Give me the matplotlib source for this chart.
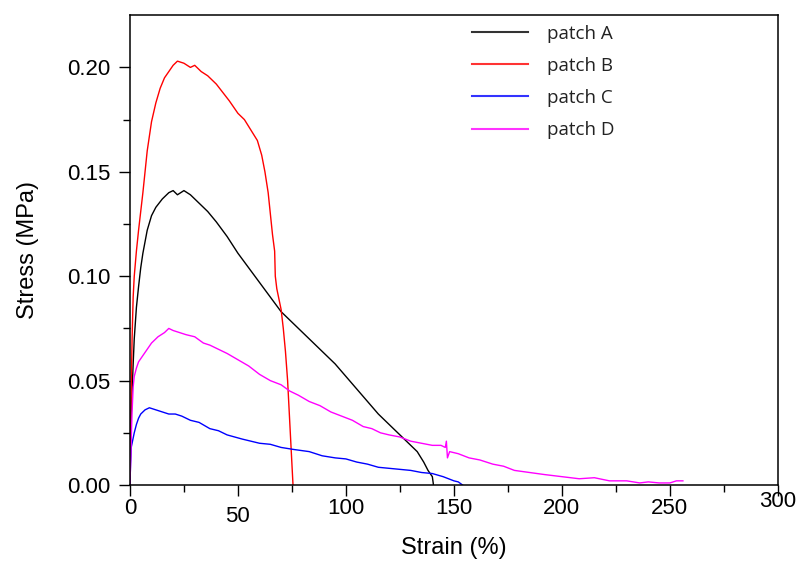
import matplotlib
matplotlib.use('Agg')
import matplotlib.pyplot as plt
from matplotlib.transforms import ScaledTranslation
import numpy as np

# patch A (black)
strain_a = [0, 0.5, 1, 1.5, 2, 3, 4, 5, 6, 8, 10, 12, 15, 18, 20, 22, 25, 28, 30, 33,
            36, 40, 45, 50, 55, 60, 65, 70, 75, 80, 85, 90, 95, 100, 105, 110, 115,
            120, 125, 130, 133, 136, 138, 140, 140.4, 140.5]
stress_a = [0, 0.03, 0.045, 0.058, 0.07, 0.085, 0.095, 0.104, 0.111, 0.122, 0.129, 0.133,
            0.137, 0.140, 0.141, 0.139, 0.141, 0.139, 0.137, 0.134, 0.131, 0.126, 0.119,
            0.111, 0.104, 0.097, 0.090, 0.083, 0.078, 0.073, 0.068, 0.063, 0.058, 0.052,
            0.046, 0.040, 0.034, 0.029, 0.024, 0.019, 0.016, 0.011, 0.007, 0.004, 0.001, 0.0]

# patch B (red)
strain_b = [0, 0.5, 1, 1.5, 2, 3, 4, 5, 6, 7, 8, 10, 12, 14, 16, 18, 20, 22, 25, 28, 30,
            33, 36, 40, 43, 46, 50, 53, 56, 59, 61, 62.5, 64, 65, 66, 67, 67.3, 68, 69,
            70, 71, 72, 73, 74, 75, 75.5]
stress_b = [0.015, 0.04, 0.07, 0.09, 0.10, 0.112, 0.122, 0.131, 0.14, 0.15, 0.16, 0.174,
            0.183, 0.190, 0.195, 0.198, 0.201, 0.203, 0.202, 0.200, 0.201, 0.198, 0.196,
            0.192, 0.188, 0.184, 0.178, 0.175, 0.170, 0.165, 0.158, 0.150, 0.140, 0.130,
            0.120, 0.112, 0.100, 0.094, 0.089, 0.084, 0.075, 0.064, 0.050, 0.030, 0.010, 0.0]

# patch C (blue)
strain_c = [0, 0.3, 0.6, 1, 2, 3, 4, 5, 7, 9, 12, 15, 18, 21, 24, 28, 32, 37, 41, 45,
            52, 60, 65, 70, 76, 83, 89, 95, 100, 105, 110, 115, 120, 125, 130, 135, 140,
            145, 150, 152, 154]
stress_c = [0, 0.01, 0.018, 0.020, 0.025, 0.029, 0.032, 0.034, 0.036, 0.037, 0.036,
            0.035, 0.034, 0.034, 0.033, 0.031, 0.030, 0.027, 0.026, 0.024, 0.022, 0.020,
            0.0195, 0.018, 0.017, 0.016, 0.014, 0.013, 0.0125, 0.011, 0.010, 0.0085,
            0.008, 0.0075, 0.007, 0.006, 0.0055, 0.004, 0.002, 0.0015, 0.0]

# patch D (magenta)
strain_d = [0, 0.3, 0.7, 1, 1.5, 2, 3, 4, 6, 8, 10, 13, 16, 18, 20, 23, 26, 30, 34, 37,
            41, 45, 50, 55, 60, 65, 70, 74, 78, 83, 88, 93, 98, 103, 108, 112, 116, 120,
            125, 130, 135, 140, 144, 146, 146.5, 147, 148, 152, 157, 162, 168, 173, 178,
            185, 192, 200, 208, 215, 222, 230, 236, 240, 245, 250, 253, 256]
stress_d = [0, 0.01, 0.025, 0.035, 0.047, 0.052, 0.056, 0.059, 0.062, 0.065, 0.068,
            0.071, 0.073, 0.075, 0.074, 0.073, 0.072, 0.071, 0.068, 0.067, 0.065, 0.063,
            0.060, 0.057, 0.053, 0.050, 0.048, 0.045, 0.043, 0.040, 0.038, 0.035, 0.033,
            0.031, 0.028, 0.027, 0.025, 0.024, 0.023, 0.021, 0.020, 0.019, 0.019, 0.018,
            0.021, 0.013, 0.016, 0.015, 0.013, 0.012, 0.010, 0.009, 0.007, 0.006, 0.005,
            0.004, 0.003, 0.0035, 0.002, 0.002, 0.001, 0.0015, 0.001, 0.001, 0.002, 0.002]

labels = ['patch A', 'patch B', 'patch C', 'patch D']
colors = ['#000000', '#ff0000', '#0000ff', '#ff00ff']
xticks = [0, 50, 100, 150, 200, 250, 300]
yticks = [0.00, 0.05, 0.10, 0.15, 0.20]

plt.rcParams['font.family'] = ['Liberation Sans', 'DejaVu Sans']

fig = plt.figure(figsize=(8.02, 5.63), dpi=100)
ax = fig.add_axes([0.162, 0.1385, 0.808, 0.8345])

series = [(strain_a, stress_a), (strain_b, stress_b), (strain_c, stress_c), (strain_d, stress_d)]
for (x, y), c, lab in zip(series, colors, labels):
    ax.plot(x, y, color=c, lw=1.0, label=lab)

ax.set_xlim(0, 300)
ax.set_ylim(0, 0.225)
ax.set_xticks(xticks)
ax.set_xticks([25, 75, 125, 175, 225, 275], minor=True)
ax.set_yticks(yticks)
ax.set_yticks([0.025, 0.075, 0.125, 0.175], minor=True)
ax.set_xticklabels([str(t) for t in xticks])
ax.set_yticklabels(['%.2f' % t for t in yticks])
ax.tick_params(which='major', direction='out', length=8, width=1, labelsize=16)
ax.tick_params(axis='y', pad=6)
ax.tick_params(axis='x', pad=1)
ax.tick_params(which='minor', direction='out', length=5, width=1)
for s in ax.spines.values():
    s.set_linewidth(1.1)

# uneven x tick label heights as in the original
offsets = [0, -6, 0, 0, 0, 0, 5]
for lbl, dy in zip(ax.get_xticklabels(), offsets):
    lbl.set_transform(lbl.get_transform() + ScaledTranslation(0, dy / 72, fig.dpi_scale_trans))

ax.set_xlabel('Strain (%)', fontsize=17, labelpad=7)
ax.set_ylabel('Stress (MPa)', fontsize=17, labelpad=20)

leg_colors = ['#333333', '#ff3333', '#3333ff', '#ff33ff']
leg_handles = [plt.Line2D([], [], color=c, lw=1.5) for c in leg_colors]
leg = ax.legend(leg_handles, labels, loc='upper left', bbox_to_anchor=(0.502, 1.016),
                frameon=False, handlelength=3.0, handletextpad=1.0, labelspacing=0.76,
                prop={'family': 'Open Sans', 'size': 13.5})
for t in leg.get_texts():
    t.set_color('#222222')

fig.savefig('out.png', dpi=100)
